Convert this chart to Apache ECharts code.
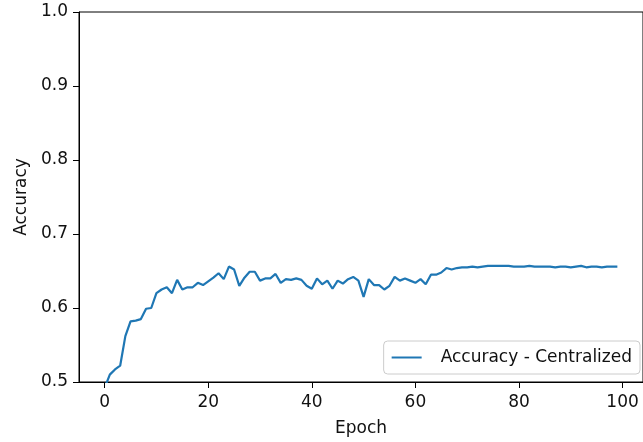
<!DOCTYPE html>
<html>
<head>
<meta charset="utf-8">
<script src="https://cdn.jsdelivr.net/npm/echarts@6/dist/echarts.min.js"></script>
<style>
  html, body { margin: 0; padding: 0; background: #fff; }
  #chart { width: 643px; height: 442px; }
</style>
</head>
<body>
<div id="chart"></div>
<script>
// Training accuracy per epoch (centralized run)
const epochs = Array.from({ length: 100 }, (_, i) => i);
const accuracyCentralized = [
  0.492, 0.510, 0.517, 0.522, 0.562, 0.582, 0.583, 0.585, 0.599, 0.600,
  0.620, 0.625, 0.628, 0.620, 0.638, 0.625, 0.628, 0.628, 0.634, 0.631,
  0.636, 0.641, 0.647, 0.639, 0.656, 0.652, 0.630, 0.641, 0.649, 0.649,
  0.637, 0.640, 0.640, 0.646, 0.634, 0.639, 0.638, 0.640, 0.638, 0.630,
  0.626, 0.640, 0.632, 0.637, 0.626, 0.637, 0.633, 0.639, 0.642, 0.637,
  0.615, 0.639, 0.631, 0.631, 0.625, 0.630, 0.642, 0.637, 0.640, 0.637,
  0.634, 0.639, 0.632, 0.645, 0.645, 0.648, 0.654, 0.652, 0.654, 0.655,
  0.655, 0.656, 0.655, 0.656, 0.657, 0.657, 0.657, 0.657, 0.657, 0.656,
  0.656, 0.656, 0.657, 0.656, 0.656, 0.656, 0.656, 0.655, 0.656, 0.656,
  0.655, 0.656, 0.657, 0.655, 0.656, 0.656, 0.655, 0.656, 0.656, 0.656
];
const xTicks = [0, 20, 40, 60, 80, 100];
const seriesName = 'Accuracy - Centralized';

const font = 'DejaVu Sans';
const fontSize = 17;
const textColor = '#111';
const chart = echarts.init(document.getElementById('chart'), null, { renderer: 'canvas' });

chart.setOption({
  animation: false,
  backgroundColor: '#fff',
  textStyle: { fontFamily: font },
  grid: {
    left: 79, top: 12, right: -7, bottom: 59,
    show: true, borderColor: '#000', borderWidth: 1, backgroundColor: 'transparent'
  },
  xAxis: {
    type: 'value',
    min: -4.95, max: 103.95,
    name: 'Epoch',
    nameLocation: 'middle',
    nameGap: 38,
    nameTextStyle: { fontFamily: font, fontSize: fontSize, color: textColor },
    axisLine: { show: true, onZero: false, lineStyle: { color: '#000', width: 1 } },
    axisTick: { show: true, length: 6, customValues: xTicks, lineStyle: { color: '#000' } },
    axisLabel: { customValues: xTicks, fontFamily: font, fontSize: fontSize, color: textColor, margin: 12 },
    splitLine: { show: false }
  },
  yAxis: {
    type: 'value',
    min: 0.5, max: 1.0, interval: 0.1,
    name: 'Accuracy',
    nameLocation: 'middle',
    nameGap: 48,
    nameTextStyle: { fontFamily: font, fontSize: fontSize, color: textColor },
    axisLine: { show: true, onZero: false, lineStyle: { color: '#000', width: 1 } },
    axisTick: { show: true, length: 6, lineStyle: { color: '#000' } },
    axisLabel: {
      fontFamily: font, fontSize: fontSize, color: textColor, margin: 11,
      formatter: v => v.toFixed(1)
    },
    splitLine: { show: false }
  },
  legend: {
    data: [seriesName],
    right: 3,
    top: 341,
    orient: 'vertical',
    backgroundColor: 'rgba(255,255,255,0.8)',
    borderColor: '#cccccc',
    borderWidth: 1,
    borderRadius: 4,
    padding: [8, 8, 8, 8],
    itemWidth: 30,
    itemHeight: 2,
    icon: 'rect',
    textStyle: { fontFamily: font, fontSize: fontSize, color: textColor, padding: [0, 0, 0, 14] }
  },
  series: [{
    name: seriesName,
    type: 'line',
    data: epochs.map((e, i) => [e, accuracyCentralized[i]]),
    showSymbol: false,
    symbol: 'none',
    clip: true,
    lineStyle: { color: '#1f77b4', width: 2.2 },
    itemStyle: { color: '#1f77b4' }
  }]
});
</script>
</body>
</html>
